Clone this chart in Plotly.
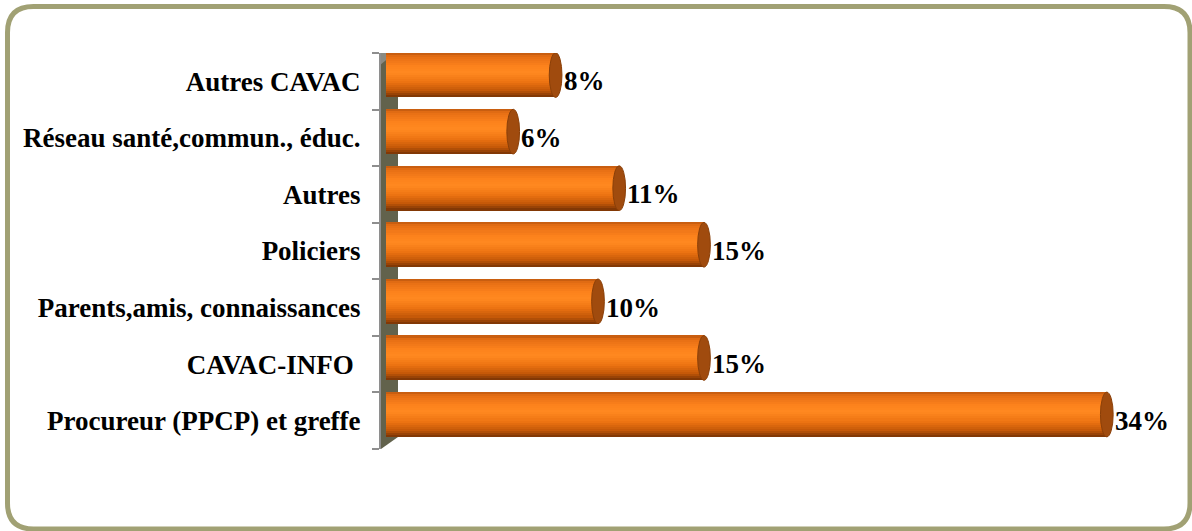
import plotly.graph_objects as go

# Data (bottom to top)
categories = [
    "Procureur (PPCP) et greffe",
    "CAVAC-INFO\u00a0",
    "Parents,amis, connaissances",
    "Policiers",
    "Autres",
    "Réseau santé,commun., éduc.",
    "Autres CAVAC",
]
values = [34, 15, 10, 15, 11, 6, 8]
value_labels = ["34%", "15%", "10%", "15%", "11%", "6%", "8%"]

W, H = 1192, 531
ML, MR, MT, MB = 381, 4, 53, 82
X_MIN, X_MAX = -0.236, 37.83

FONT = "Liberation Serif, Times New Roman, serif"
FONT_SIZE = 27

positions = list(range(len(categories)))

# Cylinder look: stacked horizontal stripes with a vertical colour profile
BAR_H = 0.79
SHIFT = 0.11
profile = [
    (0.00, (190, 88, 14)),
    (0.08, (230, 110, 20)),
    (0.30, (252, 130, 28)),
    (0.45, (255, 137, 32)),
    (0.65, (238, 116, 18)),
    (0.85, (196, 88, 8)),
    (1.00, (118, 50, 4)),
]


def colour_at(t):
    for (t0, c0), (t1, c1) in zip(profile, profile[1:]):
        if t0 <= t <= t1:
            f = (t - t0) / (t1 - t0)
            return "rgb(%d,%d,%d)" % tuple(round(a + (b - a) * f) for a, b in zip(c0, c1))
    return "rgb(%d,%d,%d)" % profile[-1][1]


fig = go.Figure()

N = 22
stripe = BAR_H / N
for k in range(N):
    t = (k + 0.5) / N
    # stripe k counted from the top of the bar
    off = SHIFT + BAR_H / 2 - (k + 1) * stripe
    fig.add_trace(go.Bar(
        x=values, y=positions, orientation="h",
        width=stripe * 1.08, offset=off - stripe * 0.04,
        marker=dict(color=colour_at(t), line=dict(width=0)),
        hoverinfo="skip", showlegend=False,
    ))

shapes = []

# Back wall of the 3D axis, kept beneath the bars
shapes.append(dict(
    type="path", xref="x", yref="y", layer="below",
    path=f"M {X_MIN},6.5 L 0.566,6.71 L 0.566,-0.29 L {X_MIN},-0.5 Z",
    fillcolor="#62624C", line=dict(width=0),
))
shapes.append(dict(
    type="path", xref="x", yref="y", layer="below",
    path=f"M {X_MIN},6.5 L 0.566,6.71 L 0.566,6.55 L {X_MIN},6.3 Z",
    fillcolor="#8A8A82", line=dict(width=0),
))

# Right-hand end caps of the cylinders
for v, p in zip(values, positions):
    shapes.append(dict(
        type="circle", xref="x", yref="y",
        x0=v - 0.3, x1=v + 0.3,
        y0=p + SHIFT - BAR_H / 2, y1=p + SHIFT + BAR_H / 2,
        fillcolor="#A04B0E", line=dict(color="#8A3F08", width=1),
    ))

# Rounded outer frame, drawn in pixel units converted to paper coordinates
pw = W - ML - MR
ph = H - MT - MB


def P(px, py):
    return "%.5f,%.5f" % ((px - ML) / pw, (H - MB - py) / ph)


l, t, r, b, rad = 7.5, 6.5, 1190.0, 529.0, 26
frame = (
    f"M {P(l + rad, t)} L {P(r - rad, t)} Q {P(r, t)} {P(r, t + rad)} "
    f"L {P(r, b - rad)} Q {P(r, b)} {P(r - rad, b)} "
    f"L {P(l + rad, b)} Q {P(l, b)} {P(l, b - rad)} "
    f"L {P(l, t + rad)} Q {P(l, t)} {P(l + rad, t)} Z"
)
shapes.append(dict(type="path", xref="paper", yref="paper", path=frame,
                   line=dict(color="#A1A174", width=5), fillcolor="rgba(0,0,0,0)"))

annotations = []
for v, p, lab in zip(values, positions, value_labels):
    annotations.append(dict(
        x=v, y=p, xref="x", yref="y", text=lab, showarrow=False,
        xanchor="left", yanchor="middle", xshift=6,
        font=dict(family=FONT, size=FONT_SIZE, color="black", weight="bold"),
    ))

fig.update_layout(
    width=W, height=H,
    margin=dict(l=ML, r=MR, t=MT, b=MB, pad=0),
    paper_bgcolor="white", plot_bgcolor="rgba(0,0,0,0)",
    barmode="overlay", bargap=0,
    shapes=shapes, annotations=annotations,
    showlegend=False,
    xaxis=dict(range=[X_MIN, X_MAX], visible=False, fixedrange=True),
    yaxis=dict(
        range=[-0.5, 6.5], tickmode="array", tickvals=positions, ticktext=categories,
        ticks="", showgrid=False, zeroline=False,
        showline=True, linecolor="#8E8E8E", linewidth=2,
        ticklabelstandoff=13,
        tickfont=dict(family=FONT, size=FONT_SIZE, color="black", weight="bold"),
        minor=dict(tickmode="array", tickvals=[p - 0.5 for p in positions] + [6.5],
                   ticks="outside", ticklen=7, tickcolor="#8E8E8E", tickwidth=1.5,
                   showgrid=False),
        fixedrange=True,
    ),
)

fig.write_html("out.html")
